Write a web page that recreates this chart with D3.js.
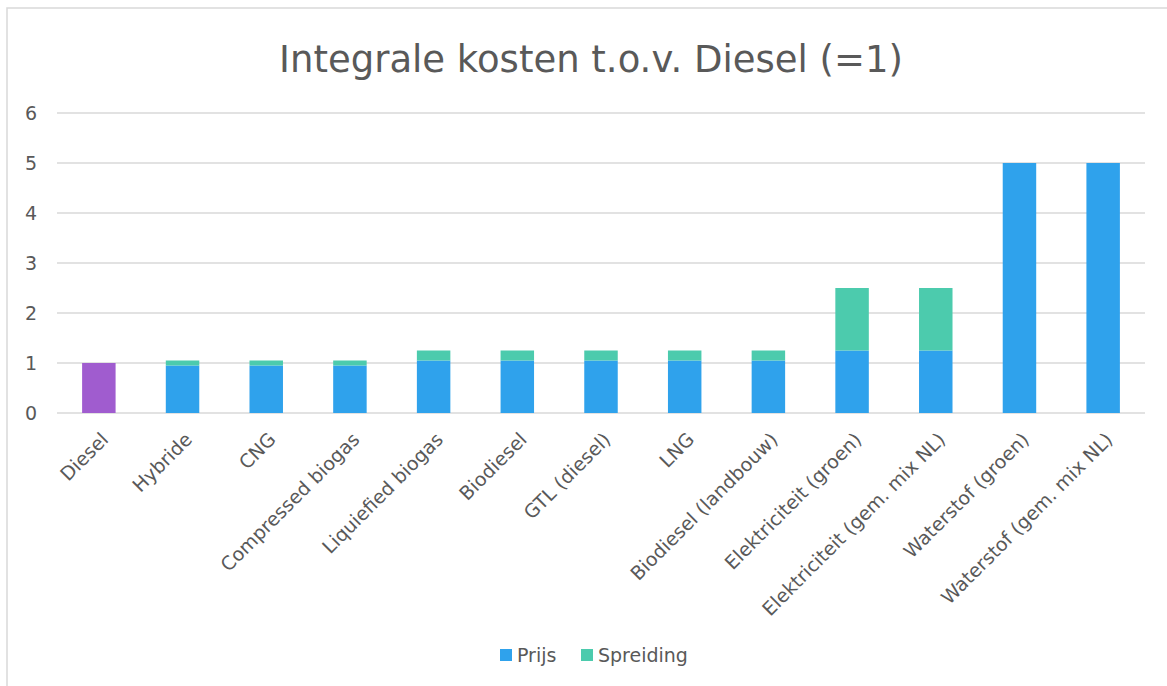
<!DOCTYPE html>
<html>
<head>
<meta charset="utf-8">
<script src="https://cdn.jsdelivr.net/npm/d3@7"></script>
<style>
  html, body { margin: 0; padding: 0; background: #fff; }
  svg { display: block; }
  text { font-family: "Century Gothic", "URW Gothic", "DejaVu Sans", sans-serif; fill: #595959; }
</style>
</head>
<body>
<svg id="chart" width="1167" height="686"></svg>
<script>
// data
var categories = ["Diesel", "Hybride", "CNG", "Compressed biogas", "Liquiefied biogas",
  "Biodiesel", "GTL (diesel)", "LNG", "Biodiesel (landbouw)", "Elektriciteit (groen)",
  "Elektriciteit (gem. mix NL)", "Waterstof (groen)", "Waterstof (gem. mix NL)"];
var prijs = [1, 0.95, 0.95, 0.95, 1.05, 1.05, 1.05, 1.05, 1.05, 1.25, 1.25, 5, 5];
var spreiding = [0, 0.1, 0.1, 0.1, 0.2, 0.2, 0.2, 0.2, 0.2, 1.25, 1.25, 0, 0];
var yTicks = [0, 1, 2, 3, 4, 5, 6];
var seriesNames = ["Prijs", "Spreiding"];

var colors = { Prijs: "#2fa2ec", Spreiding: "#4ccbad", base: "#a05ccf" };

var svg = d3.select("#chart");
var m = { left: 57, right: 22, top: 113, bottom: 273 };
var W = 1167, H = 686;

// chart frame
svg.append("rect")
  .attr("x", 7).attr("y", 8).attr("width", 1200).attr("height", 720)
  .attr("fill", "none").attr("stroke", "#d9d9d9").attr("stroke-width", 1.5);

var x = d3.scaleBand().domain(categories)
  .range([m.left, W - m.right]).paddingInner(0.6).paddingOuter(0.3);
var y = d3.scaleLinear().domain([0, 6]).range([H - m.bottom, m.top]);

// gridlines
svg.append("g").selectAll("line").data(yTicks).join("line")
  .attr("x1", m.left).attr("x2", W - m.right)
  .attr("y1", function(d){ return y(d); }).attr("y2", function(d){ return y(d); })
  .attr("stroke", "#d9d9d9").attr("stroke-width", 1.5);

// y labels
svg.append("g").selectAll("text").data(yTicks).join("text")
  .attr("x", 37).attr("y", function(d){ return y(d); })
  .attr("dy", "0.35em").attr("text-anchor", "end")
  .attr("font-size", 19).text(function(d){ return d; });

// stacked bars
var rows = categories.map(function(c, i){ return { cat: c, Prijs: prijs[i], Spreiding: spreiding[i] }; });
var stack = d3.stack().keys(seriesNames)(rows);

svg.append("g").selectAll("g").data(stack).join("g")
  .each(function(s){
    d3.select(this).selectAll("rect").data(s).join("rect")
      .attr("x", function(d){ return x(d.data.cat); })
      .attr("width", x.bandwidth())
      .attr("y", function(d){ return y(d[1]); })
      .attr("height", function(d){ return y(d[0]) - y(d[1]); })
      .attr("fill", function(d){
        return (s.key === "Prijs" && d.data.cat === "Diesel") ? colors.base : colors[s.key];
      });
  });

// category labels
svg.append("g").selectAll("text").data(categories).join("text")
  .attr("transform", function(d){
    return "translate(" + (x(d) + x.bandwidth() / 2 + 6) + "," + 436 + ") rotate(-45)";
  })
  .attr("text-anchor", "end").attr("dy", "0.35em")
  .attr("font-size", 19).text(function(d){ return d; });

// title
svg.append("text")
  .attr("x", 591).attr("y", 72).attr("text-anchor", "middle")
  .attr("font-size", 37).text("Integrale kosten t.o.v. Diesel (=1)");

// legend
var leg = svg.append("g");
var legX = [500, 581];
seriesNames.forEach(function(k, i){
  leg.append("rect").attr("x", legX[i]).attr("y", 649).attr("width", 12).attr("height", 12)
    .attr("fill", colors[k]);
  leg.append("text").attr("x", legX[i] + 17).attr("y", 655).attr("dy", "0.35em")
    .attr("font-size", 19).text(k);
});
</script>
</body>
</html>
